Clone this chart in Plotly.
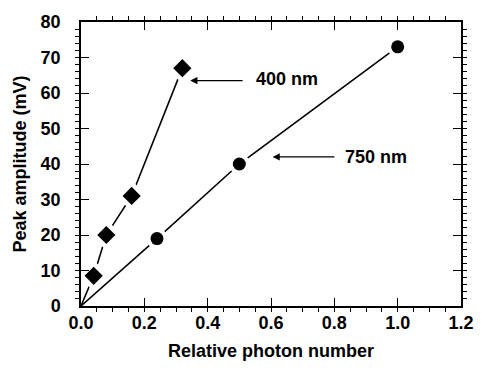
import plotly.graph_objects as go

# Data
x_400 = [0.04, 0.08, 0.16, 0.32]
y_400 = [8.5, 20, 31, 67]
x_750 = [0.24, 0.50, 1.00]
y_750 = [19, 40, 73]
origin_x = [0.0]
origin_y = [0.0]

FONT = "Liberation Sans, Arial, Helvetica, sans-serif"

fig = go.Figure()

fig.add_trace(go.Scatter(x=origin_x + x_400, y=origin_y + y_400, mode="lines",
                         line=dict(color="black", width=1.6), showlegend=False, hoverinfo="skip"))
fig.add_trace(go.Scatter(x=origin_x + x_750, y=origin_y + y_750, mode="lines",
                         line=dict(color="black", width=1.6), showlegend=False, hoverinfo="skip"))
fig.add_trace(go.Scatter(x=x_400, y=y_400, mode="markers",
                         marker=dict(symbol="diamond", size=24, color="white"),
                         showlegend=False, hoverinfo="skip"))
fig.add_trace(go.Scatter(x=x_750, y=y_750, mode="markers",
                         marker=dict(symbol="circle", size=21, color="white"),
                         showlegend=False, hoverinfo="skip"))
fig.add_trace(go.Scatter(x=x_400, y=y_400, mode="markers", name="400 nm",
                         marker=dict(symbol="diamond", size=14, color="black"),
                         showlegend=False))
fig.add_trace(go.Scatter(x=x_750, y=y_750, mode="markers", name="750 nm",
                         marker=dict(symbol="circle", size=13, color="black"),
                         showlegend=False))

fig.add_annotation(x=0.345, y=63.5, ax=0.515, ay=63.5, xref="x", yref="y",
                   axref="x", ayref="y", text="", showarrow=True,
                   arrowhead=2, arrowsize=1.2, arrowwidth=1.2, arrowcolor="black")
fig.add_annotation(x=0.545, y=64, xref="x", yref="y", text="<b>400 nm</b>",
                   showarrow=False, xanchor="left", yanchor="middle",
                   font=dict(family=FONT, size=18, color="black"))
fig.add_annotation(x=0.605, y=42, ax=0.805, ay=42, xref="x", yref="y",
                   axref="x", ayref="y", text="", showarrow=True,
                   arrowhead=2, arrowsize=1.2, arrowwidth=1.2, arrowcolor="black")
fig.add_annotation(x=0.828, y=42, xref="x", yref="y", text="<b>750 nm</b>",
                   showarrow=False, xanchor="left", yanchor="middle",
                   font=dict(family=FONT, size=18, color="black"))

tickfont = dict(family=FONT, size=18, color="black", weight="bold")

fig.update_xaxes(range=[0, 1.2], tickmode="linear", tick0=0, dtick=0.2, tickformat=".1f",
                 showgrid=False, zeroline=False, showline=True, linecolor="black", linewidth=1.5,
                 mirror="ticks", ticks="inside", ticklen=8, tickwidth=1.3, tickcolor="black",
                 minor=dict(dtick=0.05, ticklen=4, tickwidth=1.1, tickcolor="black"),
                 tickfont=tickfont,
                 title=dict(text="Relative photon number", standoff=12, font=tickfont))
fig.update_yaxes(range=[0, 80], tickmode="linear", tick0=0, dtick=10, ticksuffix="   ",
                 showgrid=False, zeroline=False, showline=True, linecolor="black", linewidth=1.5,
                 mirror="ticks", ticks="inside", ticklen=8, tickwidth=1.3, tickcolor="black",
                 minor=dict(dtick=2, ticklen=4, tickwidth=1.1, tickcolor="black"),
                 tickfont=tickfont,
                 title=dict(text="Peak amplitude (mV)", standoff=9, font=tickfont))

fig.update_layout(width=486, height=370, margin=dict(l=81, r=15, t=16, b=63),
                  paper_bgcolor="white", plot_bgcolor="white", showlegend=False)

fig.write_html("out.html")
